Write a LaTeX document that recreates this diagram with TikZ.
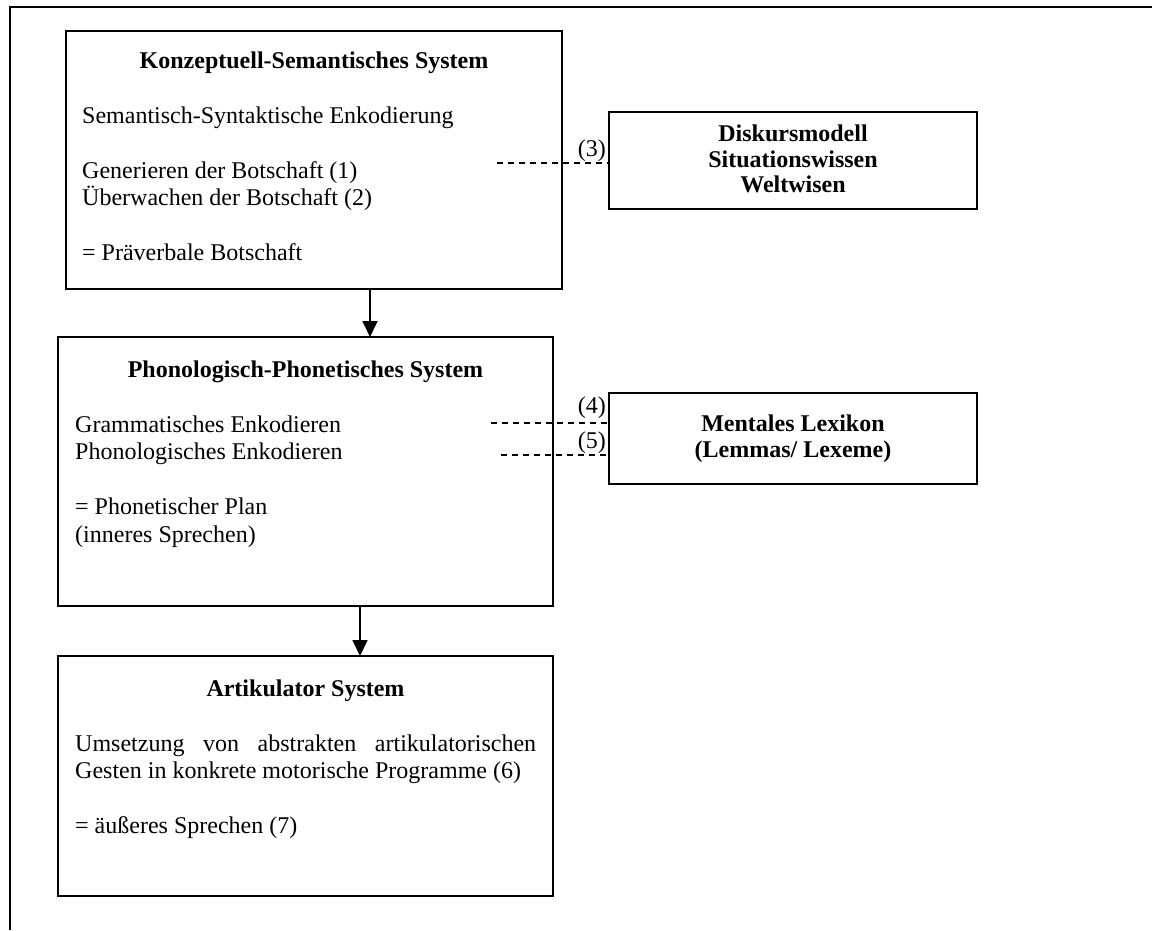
\documentclass[tikz,border=0pt]{standalone}
\usepackage{fontspec}
\setmainfont{Liberation Serif}
\usetikzlibrary{arrows.meta}
\begin{document}
\begin{tikzpicture}[x=1pt,y=-1pt,
  every node/.style={font=\fontsize{24}{27.5}\selectfont, inner sep=0pt},
  box/.style={draw, line width=1.8pt, anchor=north west, inner sep=0pt, outer sep=0pt},
  txt/.style={anchor=base west},
  ttl/.style={anchor=base, font=\fontsize{24}{27.5}\selectfont\bfseries},
  num/.style={anchor=base east},
  link/.style={line width=1.3pt, dash pattern=on 6pt off 5pt},
  flow/.style={line width=1.8pt, -{Triangle[length=16pt,width=15pt]}}]
\useasboundingbox (0,0) rectangle (1152,930);
% outer frame (top and left edges)
\draw[line width=2pt] (10,930) -- (10,6.5) -- (1152,6.5);

% conceptual system
\node[box, minimum width=496pt, minimum height=258pt] (ks) at (66,31) {};
\node[ttl] (ksT) at (ks.north |- 0,68) {Konzeptuell-Semantisches System};
\node[txt] (ks1) at (82,123) {Semantisch-Syntaktische Enkodierung};
\node[txt] (ks2) at (82,178) {Generieren der Botschaft (1)};
\node[txt] (ks3) at (82,205.5) {Überwachen der Botschaft (2)};
\node[txt] (ks4) at (82,260) {= Präverbale Botschaft};

% discourse model
\node[box, minimum width=368pt, minimum height=97pt] (dm) at (609,112) {};
\node[ttl] (dm1) at (dm.north |- 0,141.5) {Diskursmodell};
\node[ttl] (dm2) at (dm.north |- 0,167) {Situationswissen};
\node[ttl] (dm3) at (dm.north |- 0,192.5) {Weltwisen};
\coordinate (c3) at (497,163);
\draw[link] (c3) -- (c3 -| dm.west);
\node[num] (n3) at (606,156) {(3)};

% phonological system
\node[box, minimum width=495pt, minimum height=269pt] (pp) at (58,337) {};
\node[ttl] (ppT) at (pp.north |- 0,377) {Phonologisch-Phonetisches System};
\node[txt] (pp1) at (75,432) {Grammatisches Enkodieren};
\node[txt] (pp2) at (75,459.5) {Phonologisches Enkodieren};
\node[txt] (pp3) at (75,514.5) {= Phonetischer Plan};
\node[txt] (pp4) at (75,542) {(inneres Sprechen)};

% mental lexicon
\node[box, minimum width=368pt, minimum height=91pt] (ml) at (609,393) {};
\node[ttl] (ml1) at (ml.north |- 0,431) {Mentales Lexikon};
\node[ttl] (ml2) at (ml.north |- 0,457) {(Lemmas/ Lexeme)};
\coordinate (c4) at (491,423);
\coordinate (c5) at (501,455);
\draw[link] (c4) -- (c4 -| ml.west);
\draw[link] (c5) -- (c5 -| ml.west);
\node[num] (n4) at (606,413) {(4)};
\node[num] (n5) at (606,448) {(5)};

% articulator
\node[box, minimum width=495pt, minimum height=240pt] (ar) at (58,656) {};
\node[ttl] (arT) at (ar.north |- 0,696) {Artikulator System};
\node[txt] (ar1) at (75,751) {\makebox[461pt][s]{Umsetzung von abstrakten artikulatorischen}};
\node[txt] (ar2) at (75,778.5) {Gesten in konkrete motorische Programme (6)};
\node[txt] (ar3) at (75,833) {= äußeres Sprechen (7)};

% flow arrows
\coordinate (a1) at (370,0);
\coordinate (a2) at (360,0);
\draw[flow] (ks.south -| a1) -- (pp.north -| a1);
\draw[flow] (pp.south -| a2) -- (ar.north -| a2);
\end{tikzpicture}
\end{document}
